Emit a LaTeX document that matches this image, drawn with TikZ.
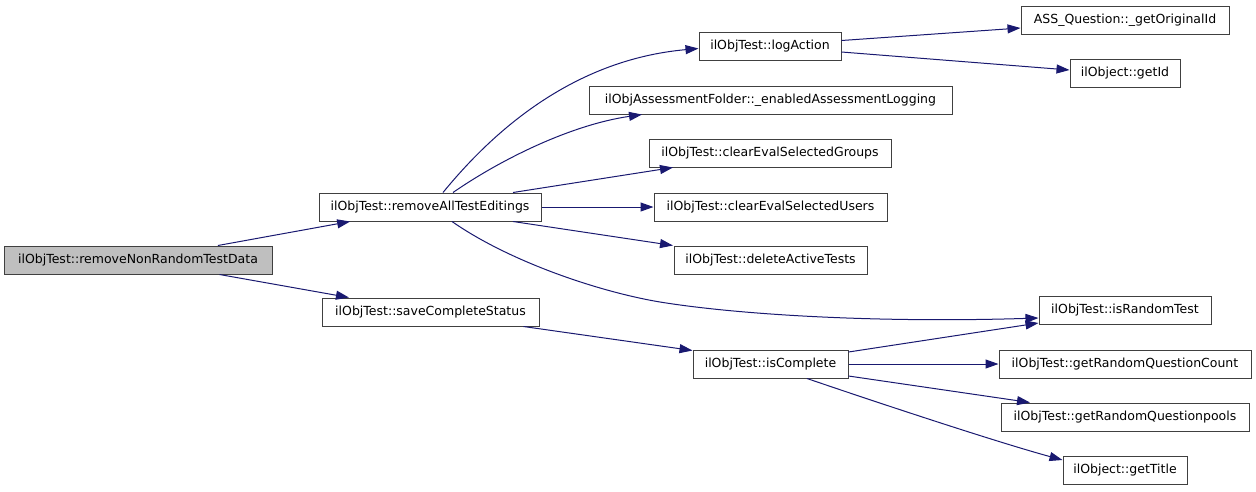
\documentclass[tikz,border=0pt]{standalone}
\usepackage{fontspec}
\setmainfont{DejaVu Sans}
\usetikzlibrary{arrows.meta}
\definecolor{edgecol}{HTML}{191970}
\definecolor{boxline}{HTML}{404040}
\tikzset{
  fn/.style={draw=boxline, line width=1pt, fill=white, rectangle, inner sep=0pt,
    minimum height=28pt, font=\fontsize{12.5}{14}\selectfont, text=black},
  rootfn/.style={fn, fill={rgb,255:red,191;green,191;blue,191}},
  edge/.style={draw=edgecol, line width=1pt, -{Triangle[length=13pt,width=9pt]}}
}
\begin{document}
\begin{tikzpicture}[x=1pt,y=-1pt]
\useasboundingbox (0,0) rectangle (1256,491);
% nodes
\node[rootfn, minimum width=268pt] (root) at (138,260) {ilObjTest::removeNonRandomTestData};
\node[fn, minimum width=222pt] (rate) at (430,207) {ilObjTest::removeAllTestEditings};
\node[fn, minimum width=217pt] (scs) at (430.5,312) {ilObjTest::saveCompleteStatus};
\node[fn, minimum width=142pt] (logA) at (770,46.5) {ilObjTest::logAction};
\node[fn, minimum width=363pt] (eal) at (770.5,100) {ilObjAssessmentFolder::\_enabledAssessmentLogging};
\node[fn, minimum width=242pt] (cesg) at (770,153) {ilObjTest::clearEvalSelectedGroups};
\node[fn, minimum width=233pt] (ceu) at (770.5,207) {ilObjTest::clearEvalSelectedUsers};
\node[fn, minimum width=193pt] (dat) at (770.5,260) {ilObjTest::deleteActiveTests};
\node[fn, minimum width=208pt] (assq) at (1125,20) {ASS\_Question::\_getOriginalId};
\node[fn, minimum width=110pt] (getId) at (1125,73) {ilObject::getId};
\node[fn, minimum width=172pt] (isRT) at (1125,310) {ilObjTest::isRandomTest};
\node[fn, minimum width=155pt] (isC) at (770.5,364) {ilObjTest::isComplete};
\node[fn, minimum width=252pt] (grqc) at (1125,364) {ilObjTest::getRandomQuestionCount};
\node[fn, minimum width=248pt] (grqp) at (1125,417) {ilObjTest::getRandomQuestionpools};
\node[fn, minimum width=124pt] (getT) at (1125,470.5) {ilObject::getTitle};
% edges
\draw[edge] (root) -- (rate);
\draw[edge] (root) -- (scs);
\draw[edge] ([xshift=13pt]rate.north) .. controls (490,135) and (570,60) .. ([yshift=-2pt]logA.west);
\draw[edge] ([xshift=23pt]rate.north) .. controls (500,160) and (570,125) .. ([xshift=-128.5pt]eal.south);
\draw[edge] ([xshift=83pt]rate.north) -- ([xshift=-97pt]cesg.south);
\draw[edge] (rate.east) -- (ceu.west);
\draw[edge] ([xshift=83pt]rate.south) -- ([xshift=-97.5pt]dat.north);
\draw[edge] ([xshift=22pt]rate.south) .. controls (510,262) and (600,292) .. (660,302)
  .. controls (740,315) and (880,323) .. ([yshift=-8pt]isRT.west);
\draw[edge] ([yshift=6pt]logA.east) -- ([yshift=-8pt]assq.west);
\draw[edge] ([yshift=-5.5pt]logA.east) -- ([yshift=3pt]getId.west);
\draw[edge] ([xshift=93pt]scs.south) -- ([yshift=-1pt]isC.north west);
\draw[edge] ([yshift=12pt]isC.east) -- ([yshift=-13pt]isRT.west);
\draw[edge] (isC.east) -- (grqc.west);
\draw[edge] ([yshift=-12pt]isC.east) -- ([xshift=-95pt]grqp.north);
\draw[edge] ([xshift=36.5pt]isC.south) .. controls (867,399) and (993,441) .. ([yshift=10.5pt]getT.west);
\end{tikzpicture}
\end{document}
